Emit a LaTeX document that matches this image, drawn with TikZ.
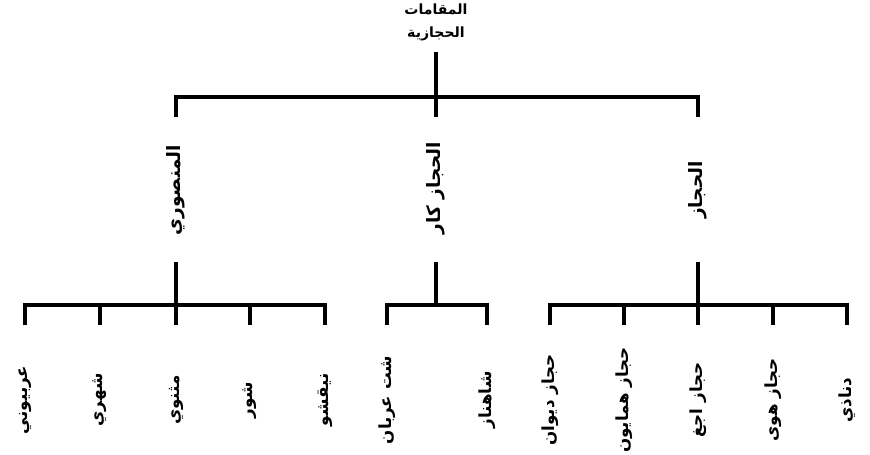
\documentclass[tikz,border=0pt]{standalone}
\usepackage{fontspec}
\usepackage{tikz}
\usetikzlibrary{calc}
\newfontfamily\arabicfont[Script=Arabic]{DejaVu Sans}
\TeXXeTstate=1
\newcommand{\artxt}[1]{\beginR#1\endR}

\begin{document}
\begin{tikzpicture}[
  x=0.02cm, y=-0.02cm,
  bar/.style={line width=2.7pt},
  rootlabel/.style={font=\arabicfont\bfseries\fontsize{8}{13}\selectfont, align=center, inner sep=1pt},
  branch/.style={font=\arabicfont\bfseries\fontsize{10.5}{13}\selectfont, rotate=90, inner sep=1pt},
  leaf/.style={font=\arabicfont\bfseries\fontsize{9.5}{12}\selectfont, rotate=90, inner sep=1pt}
]
\useasboundingbox (0,0) rectangle (870,454);

% root
\node[rootlabel] (root) at (436,22) {\artxt{المقامات}\\\artxt{الحجازية}};
\coordinate (rootstart) at (436,52);
\coordinate (rootj) at (436,97);

% branches
\node[branch] (mansuri) at (176,190) {\artxt{المنصوري}};
\node[branch] (hijazkar) at (436,188) {\artxt{الحجاز كار}};
\node[branch] (hijaz) at (698,190) {\artxt{الحجاز}};
\coordinate (mansuritop) at (176,117);
\coordinate (hijazkartop) at (436,117);
\coordinate (hijaztop) at (698,117);
\coordinate (mansuribot) at (176,262);
\coordinate (hijazkarbot) at (436,262);
\coordinate (hijazbot) at (698,262);
\coordinate (mansurij) at (176,305);
\coordinate (hijazkarj) at (436,305);
\coordinate (hijazj) at (698,305);

% leaves
\foreach \x/\name/\t in {25/m1/عربيوني, 100/m2/شهري, 176/m3/مثنوي, 250/m4/شور, 325/m5/نيقشو,
  387/k1/شت عربان, 487/k2/شاهناز,
  550/h1/حجاز ديوان, 624/h2/حجاز همايون, 698/h3/حجاز اجغ, 773/h4/حجاز هوى, 847/h5/دناذي}{
  \node[leaf] (\name) at (\x,400) {\artxt{\t}};
  \coordinate (\name top) at (\x,325);
}

% connectors
\draw[bar] (rootstart) -- (rootj);
\draw[bar] (mansuritop) |- (rootj) -| (hijaztop);
\draw[bar] (rootj) -- (hijazkartop);

\draw[bar] (mansuribot) -- (mansurij);
\draw[bar] (m1top) |- (mansurij) -| (m5top);
\foreach \n in {m2,m3,m4}
  \draw[bar] (\n top) -- (\n top |- mansurij);

\draw[bar] (hijazkarbot) -- (hijazkarj);
\draw[bar] (k1top) |- (hijazkarj) -| (k2top);

\draw[bar] (hijazbot) -- (hijazj);
\draw[bar] (h1top) |- (hijazj) -| (h5top);
\foreach \n in {h2,h3,h4}
  \draw[bar] (\n top) -- (\n top |- hijazj);
\end{tikzpicture}
\end{document}
